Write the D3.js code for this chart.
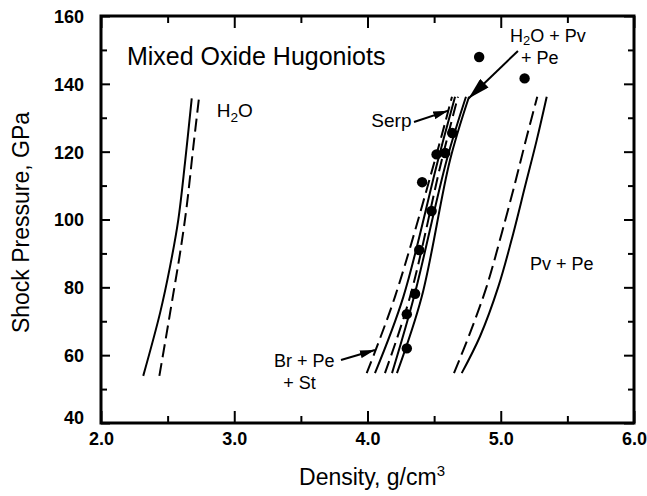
<!DOCTYPE html>
<html><head><meta charset="utf-8">
<script src="https://cdn.jsdelivr.net/npm/d3@7"></script>
<style>
html,body{margin:0;padding:0;background:#fff;}
svg{display:block;font-family:"Liberation Sans",Arial,Helvetica,sans-serif;}
</style></head>
<body>
<svg id="chart" width="647" height="496"></svg>
<script>
// ---- data (density g/cm3, pressure GPa) ----
const densityMajor = [2, 3, 4, 5, 6];
const densityMinor = [2.5, 3.5, 4.5, 5.5];
const pressureMajor = [40, 60, 80, 100, 120, 140, 160];
const pressureMinor = [50, 70, 90, 110, 130, 150];

const h2oSolid  = [[2.317,53.9],[2.443,72.4],[2.518,86.1],[2.580,99.9],[2.630,116.6],[2.681,135.7]];
const h2oDashed = [[2.438,53.9],[2.493,66.5],[2.543,78.2],[2.593,90.0],[2.643,103.8],[2.693,121.5],[2.735,135.7]];

const mixDashed1 = [[3.994,54.7],[4.206,77.2],[4.506,117.5],[4.634,136.2]];
const mixSolid1  = [[4.056,54.7],[4.269,77.2],[4.529,117.5],[4.657,136.2]];
const mixDashed2 = [[4.131,54.7],[4.319,77.2],[4.557,117.5],[4.679,136.2]];
const mixSolid2  = [[4.184,54.7],[4.349,77.2],[4.594,117.5],[4.739,136.2]];
const mixSolid3  = [[4.221,54.7],[4.407,77.2],[4.619,117.5],[4.762,136.2]];

const pvpeDashed = [[4.649,54.7],[4.769,66.5],[4.894,80.2],[5.007,95.9],[5.107,110.7],[5.195,124.4],[5.274,136.2]];
const pvpeSolid  = [[4.707,54.7],[4.844,65.5],[4.982,80.2],[5.094,95.9],[5.182,109.7],[5.270,123.4],[5.345,136.2]];

const shockData = [[4.295,62.0],[4.295,72.1],[4.357,78.1],[4.388,91.0],[4.481,102.5],[4.410,111.0],
                   [4.518,119.2],[4.583,119.6],[4.636,125.5],[4.838,147.9],[5.179,141.6]];

// ---- layout ----
const W = 647, H = 496;
const m = {left:101, right:13, top:16, bottom:73};
const svg = d3.select("#chart");
const x = d3.scaleLinear().domain([2, 6]).range([m.left, W - m.right]);
const y = d3.scaleLinear().domain([40, 160]).range([H - m.bottom, m.top]);

const g = svg.append("g");

// curves
const line = d3.line().x(d => x(d[0])).y(d => y(d[1])).curve(d3.curveCatmullRom.alpha(0.5));
const curves = [
  {d: h2oSolid, dash: null}, {d: h2oDashed, dash: "13,6"},
  {d: mixDashed1, dash: "13,6"}, {d: mixSolid1, dash: null},
  {d: mixDashed2, dash: "13,6"}, {d: mixSolid2, dash: null}, {d: mixSolid3, dash: null},
  {d: pvpeDashed, dash: "14,6"}, {d: pvpeSolid, dash: null}
];
g.selectAll("path.curve").data(curves).join("path")
  .attr("class", "curve")
  .attr("d", c => line(c.d))
  .attr("fill", "none").attr("stroke", "#000").attr("stroke-width", 2)
  .attr("stroke-dasharray", c => c.dash);

// data points
g.selectAll("circle").data(shockData).join("circle")
  .attr("cx", d => x(d[0])).attr("cy", d => y(d[1])).attr("r", 5.2).attr("fill", "#000");

// axes with inward ticks
function ax(gen, scale, vals, size, labels, transform, cls) {
  const a = gen(scale).tickValues(vals).tickSize(size).tickSizeOuter(0);
  if (!labels) a.tickFormat("");
  const sel = svg.append("g").attr("transform", transform).attr("class", cls).call(a);
  sel.select(".domain").remove();
  sel.selectAll(".tick line").attr("stroke", "#000").attr("stroke-width", 2);
  return sel;
}
const bottomY = H - m.bottom, rightX = W - m.right;
const xb = ax(d3.axisBottom, x, densityMajor, -12, true, `translate(0,${bottomY})`, "xb");
ax(d3.axisBottom, x, densityMinor, -7, false, `translate(0,${bottomY})`, "xbm");
ax(d3.axisTop, x, densityMajor, -12, false, `translate(0,${m.top})`, "xt");
ax(d3.axisTop, x, densityMinor, -7, false, `translate(0,${m.top})`, "xtm");
const yl = ax(d3.axisLeft, y, pressureMajor, -9, true, `translate(${m.left},0)`, "yl");
ax(d3.axisLeft, y, pressureMinor, -6, false, `translate(${m.left},0)`, "ylm");
ax(d3.axisRight, y, pressureMajor, -10, false, `translate(${rightX},0)`, "yr");
ax(d3.axisRight, y, pressureMinor, -6, false, `translate(${rightX},0)`, "yrm");

xb.call(a => a.selectAll(".tick text").text(d => d3.format(".1f")(d))
  .attr("font-family", "Liberation Sans, Arial, sans-serif")
  .attr("font-size", 18).attr("font-weight", "bold").attr("fill", "#000")
  .attr("y", 0).attr("dy", 0).attr("transform", "translate(0,22)"));
yl.call(a => a.selectAll(".tick text")
  .attr("font-family", "Liberation Sans, Arial, sans-serif")
  .attr("font-size", 18).attr("font-weight", "bold").attr("fill", "#000")
  .attr("x", -17).attr("dy", d => d === 40 ? "0.05em" : "0.36em"));

// frame
svg.append("rect").attr("x", m.left).attr("y", m.top)
  .attr("width", W - m.left - m.right).attr("height", H - m.top - m.bottom)
  .attr("fill", "none").attr("stroke", "#000").attr("stroke-width", 3);

// axis titles
const xt = svg.append("text").attr("x", 372).attr("y", 485).attr("text-anchor", "middle")
  .attr("font-size", 23).attr("fill", "#000");
xt.append("tspan").text("Density, g/cm");
xt.append("tspan").text("3").attr("font-size", 15).attr("dy", -9);

svg.append("text").attr("transform", `translate(29,${(m.top + bottomY) / 2 + 3}) rotate(-90)`)
  .attr("text-anchor", "middle").attr("font-size", 23).attr("fill", "#000")
  .text("Shock Pressure, GPa");

// annotations
const ann = svg.append("g").attr("fill", "#000").attr("font-size", 18);
ann.append("text").attr("x", x(2.195)).attr("y", y(145.55)).attr("font-size", 25).text("Mixed Oxide Hugoniots");

function h2o(sel, sub) {
  sel.append("tspan").text("H");
  sel.append("tspan").text("2").attr("font-size", "0.72em").attr("dy", sub);
  sel.append("tspan").text("O").attr("dy", -sub);
}
ann.append("text").attr("x", x(2.868)).attr("y", y(130.3)).attr("font-size", 19).call(h2o, 5);
ann.append("text").attr("x", x(5.22)).attr("y", y(85.1)).text("Pv + Pe");
ann.append("text").attr("x", x(4.33)).attr("y", y(127.4)).attr("text-anchor", "end").attr("font-size", 19).text("Serp");
const t1 = ann.append("text").attr("x", x(5.069)).attr("y", y(152.3)).call(h2o, 3);
t1.append("tspan").text(" + Pv");
ann.append("text").attr("x", x(5.152)).attr("y", y(145.8)).text("+ Pe");
ann.append("text").attr("x", x(3.298)).attr("y", y(56.6)).text("Br + Pe");
ann.append("text").attr("x", x(3.368)).attr("y", y(50.0)).text("+ St");

// arrows
const defs = svg.append("defs");
function marker(id, len, wid) {
  defs.append("marker").attr("id", id).attr("markerUnits", "userSpaceOnUse")
    .attr("markerWidth", len).attr("markerHeight", wid)
    .attr("refX", len).attr("refY", wid / 2).attr("orient", "auto")
    .append("path").attr("d", `M0,0 L${len},${wid/2} L0,${wid} Z`).attr("fill", "#000");
}
marker("hBig", 22, 12);
marker("hSmall", 15, 8);
const arrows = [
  {from: [4.349, 128.75], to: [4.606, 132.1], m: "hSmall"},
  {from: [5.129, 149.7], to: [4.758, 135.7], m: "hBig"},
  {from: [3.801, 58.6], to: [4.056, 61.5], m: "hSmall"}
];
svg.selectAll("line.arrow").data(arrows).join("line").attr("class", "arrow")
  .attr("x1", a => x(a.from[0])).attr("y1", a => y(a.from[1]))
  .attr("x2", a => x(a.to[0])).attr("y2", a => y(a.to[1]))
  .attr("stroke", "#000").attr("stroke-width", 2)
  .attr("marker-end", a => `url(#${a.m})`);
</script>
</body></html>
